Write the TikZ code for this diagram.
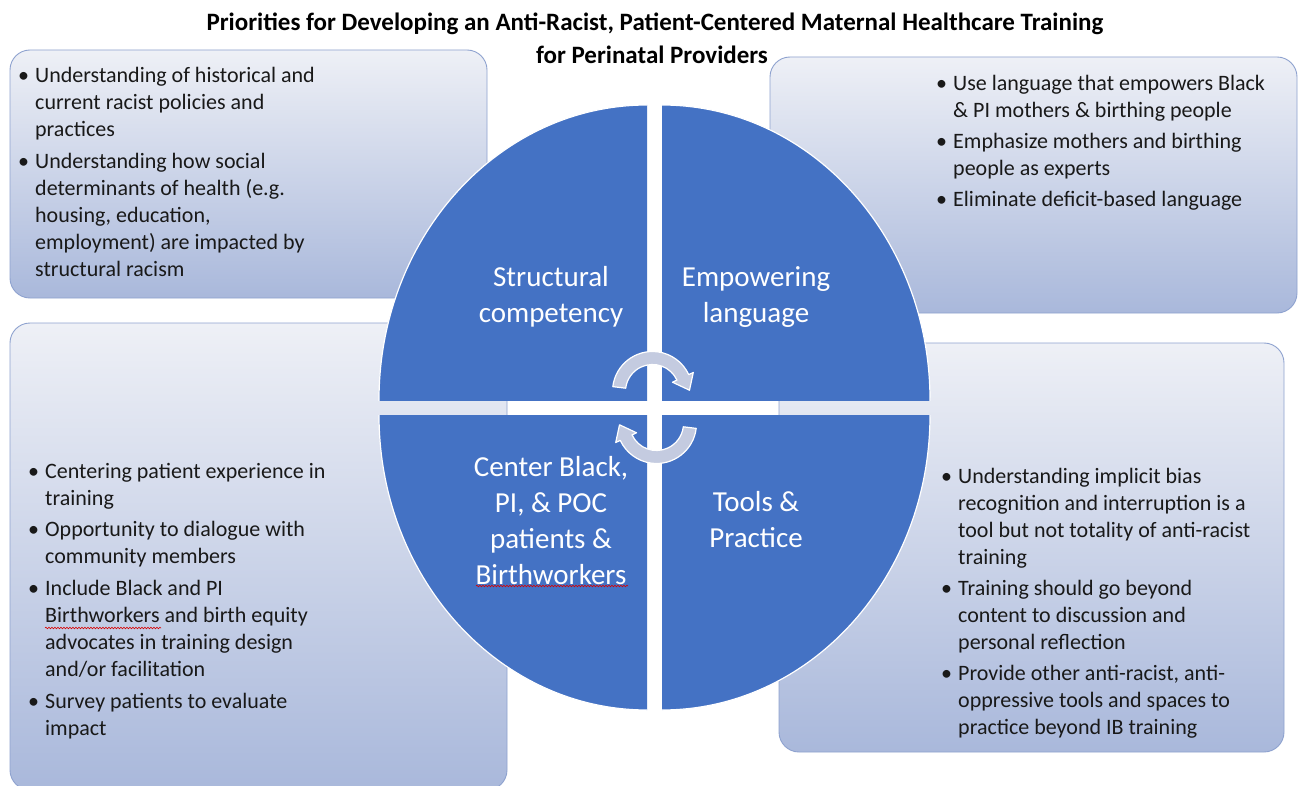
\documentclass[tikz,border=0pt]{standalone}
\usepackage{fontspec}
\setmainfont{Carlito}
\usetikzlibrary{calc,decorations.pathmorphing}
\definecolor{quadblue}{HTML}{4472C4}
\definecolor{boxtop}{HTML}{EEF0F6}
\definecolor{boxbot}{HTML}{A9B8DB}
\definecolor{boxline}{HTML}{8EA2CF}
\definecolor{arrowfill}{HTML}{C4CBE0}
\newcommand{\bul}{\textbullet}
\begin{document}
\begin{tikzpicture}[x=1pt,y=-1pt,
  infobox/.style={rounded corners=20pt, top color=boxtop, bottom color=boxbot, draw=boxline, line width=0.9pt},
  quad/.style={fill=quadblue, draw=white, line width=1.2pt},
  quadtext/.style={text=white, align=center, inner sep=0pt, font=\fontsize{29}{36}\selectfont},
  boxtext/.style={anchor=base west, inner sep=0pt, text=black!90, font=\fontsize{22}{27}\selectfont},
  titletext/.style={anchor=base, inner sep=0pt, font=\fontsize{25}{33}\selectfont\bfseries},
  cyclearrow/.style={fill=arrowfill, draw=white, line width=1.2pt, line join=round},
  spell/.style={draw=red!85!black, line width=0.6pt, decorate, decoration={snake, amplitude=0.8pt, segment length=3pt}}
]
\useasboundingbox (0,0) rectangle (1300,786);
\fill[white] (0,0) rectangle (1300,786);

% title
\node[titletext] (title1) at (655,31) {Priorities for Developing an Anti-Racist, Patient-Centered Maternal Healthcare Training};
\node[titletext] (title2) at (652,64) {for Perinatal Providers};

% boxes
\path[infobox] (10,50) rectangle (487,298);
\path[infobox] (770,57) rectangle (1297,313);
\path[infobox] (10,323) rectangle (507,790);
\path[infobox] (779,343) rectangle (1284,752);

% quadrants
\begin{scope}
  \clip (370,100) rectangle (647,400);
  \path[quad] (647,400) ellipse [x radius=268, y radius=295];
\end{scope}
\begin{scope}
  \clip (662,100) rectangle (940,400);
  \path[quad] (662,400) ellipse [x radius=268, y radius=295];
\end{scope}
\begin{scope}
  \clip (370,415) rectangle (647,720);
  \path[quad] (647,415) ellipse [x radius=268, y radius=295];
\end{scope}
\begin{scope}
  \clip (662,415) rectangle (940,720);
  \path[quad] (662,415) ellipse [x radius=268, y radius=295];
\end{scope}

% quadrant labels
\node[quadtext] (q1) at (551,297) {Structural\\competency};
\node[quadtext] (q2) at (756,297) {Empowering\\language};
\node[quadtext] (q3) at (551,521) {Center Black,\\PI, \& POC\\patients \&\\Birthworkers};
\node[quadtext] (q4) at (756,520) {Tools \&\\Practice};

% cycle arrows
\coordinate (c1) at (652.5,391.5);
\coordinate (c2) at (656.5,423.5);
\path[cyclearrow] ($(c1)+(187:40)$) arc[start angle=187, end angle=335, radius=40]
  -- ($(c1)+(335:45)$) -- ($(c1)+(358:37)$) -- ($(c1)+(335:22)$) -- ($(c1)+(335:27)$)
  arc[start angle=335, end angle=187, radius=27] -- cycle;
\path[cyclearrow] ($(c2)+(7:40)$) arc[start angle=7, end angle=155, radius=40]
  -- ($(c2)+(155:45)$) -- ($(c2)+(178:37)$) -- ($(c2)+(155:22)$) -- ($(c2)+(155:27)$)
  arc[start angle=155, end angle=7, radius=27] -- cycle;

% box texts
\node[boxtext] (t1) at (18,83) {\begin{tabular}[t]{@{}p{17pt}@{}l@{}}
\bul & Understanding of historical and\\
 & current racist policies and\\
 & practices\\[5pt]
\bul & Understanding how social\\
 & determinants of health (e.g.\\
 & housing, education,\\
 & employment) are impacted by\\
 & structural racism
\end{tabular}};

\node[boxtext] (t2) at (936,91) {\begin{tabular}[t]{@{}p{17pt}@{}l@{}}
\bul & Use language that empowers Black\\
 & \& PI mothers \& birthing people\\[4pt]
\bul & Emphasize mothers and birthing\\
 & people as experts\\[4pt]
\bul & Eliminate deficit-based language
\end{tabular}};

\node[boxtext] (t3) at (28,478) {\begin{tabular}[t]{@{}p{17pt}@{}l@{}}
\bul & Centering patient experience in\\
 & training\\[4pt]
\bul & Opportunity to dialogue with\\
 & community members\\[5pt]
\bul & Include Black and PI\\
 & Birthworkers and birth equity\\
 & advocates in training design\\
 & and/or facilitation\\[5pt]
\bul & Survey patients to evaluate\\
 & impact
\end{tabular}};

\node[boxtext] (t4) at (941,483) {\begin{tabular}[t]{@{}p{17pt}@{}l@{}}
\bul & Understanding implicit bias\\
 & recognition and interruption is a\\
 & tool but not totality of anti-racist\\
 & training\\[4pt]
\bul & Training should go beyond\\
 & content to discussion and\\
 & personal reflection\\[4pt]
\bul & Provide other anti-racist, anti-\\
 & oppressive tools and spaces to\\
 & practice beyond IB training
\end{tabular}};

% spell-check underlines
\path[spell] (45,628) -- (161,628);
\path[spell] (476,586) -- (628,586);
\end{tikzpicture}
\end{document}
